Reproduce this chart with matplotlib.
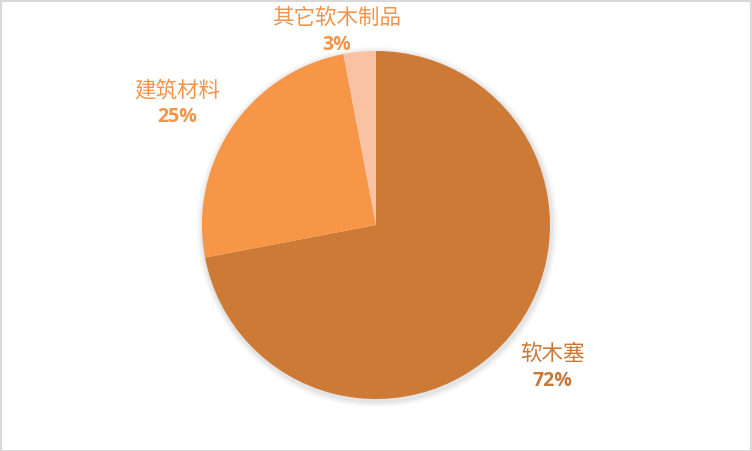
import matplotlib
matplotlib.use("Agg")
import matplotlib.pyplot as plt
from matplotlib.patches import Rectangle

plt.rcParams['font.family'] = ['Noto Sans CJK SC', 'DejaVu Sans']

# data (clockwise from 12 o'clock)
categories = ['软木塞', '建筑材料', '其它软木制品']
shares = [72, 25, 3]
slice_colors = ['#CD7A37', '#F79646', '#F9C3A3']
label_colors = ['#C97838', '#F4944A', '#F4944A']
# label anchor positions in pixel coords (x, y from top)
label_pos = [(552, 354), (177, 90), (337, 18)]

W, H = 752, 452
fig = plt.figure(figsize=(W / 100, H / 100), dpi=100)
ax = fig.add_axes([0, 0, 1, 1])

cx, cy, r = 376, H - 226, 174
# faint shadow
for k, a in enumerate([0.03, 0.03, 0.025, 0.02]):
    ax.add_patch(plt.Circle((cx + 1, cy - 2), r + 2 + k * 1.5, color='k', alpha=a, lw=0, zorder=1))
ax.pie(shares, colors=slice_colors, startangle=90, counterclock=False,
       center=(cx, cy), radius=r, frame=True,
       wedgeprops=dict(linewidth=0, zorder=2))
ax.set_xlim(0, W); ax.set_ylim(0, H); ax.set_aspect('equal'); ax.axis('off')

for name, v, c, (x, y) in zip(categories, shares, label_colors, label_pos):
    ax.text(x, H - y, name, color=c, fontsize=15.5, ha='center', va='center')
    ax.text(x, H - y - 27, f'{v}%', color=c, fontsize=14, fontweight='bold',
            ha='center', va='center', family=['Open Sans', 'DejaVu Sans'])

fig.add_artist(Rectangle((0.5 / W, 0.5 / H), 1 - 2 / W, 1 - 2 / H, transform=fig.transFigure,
                         fill=False, edgecolor='#D9D9D9', lw=1.5))
fig.savefig('out.png', dpi=100, facecolor='white')
